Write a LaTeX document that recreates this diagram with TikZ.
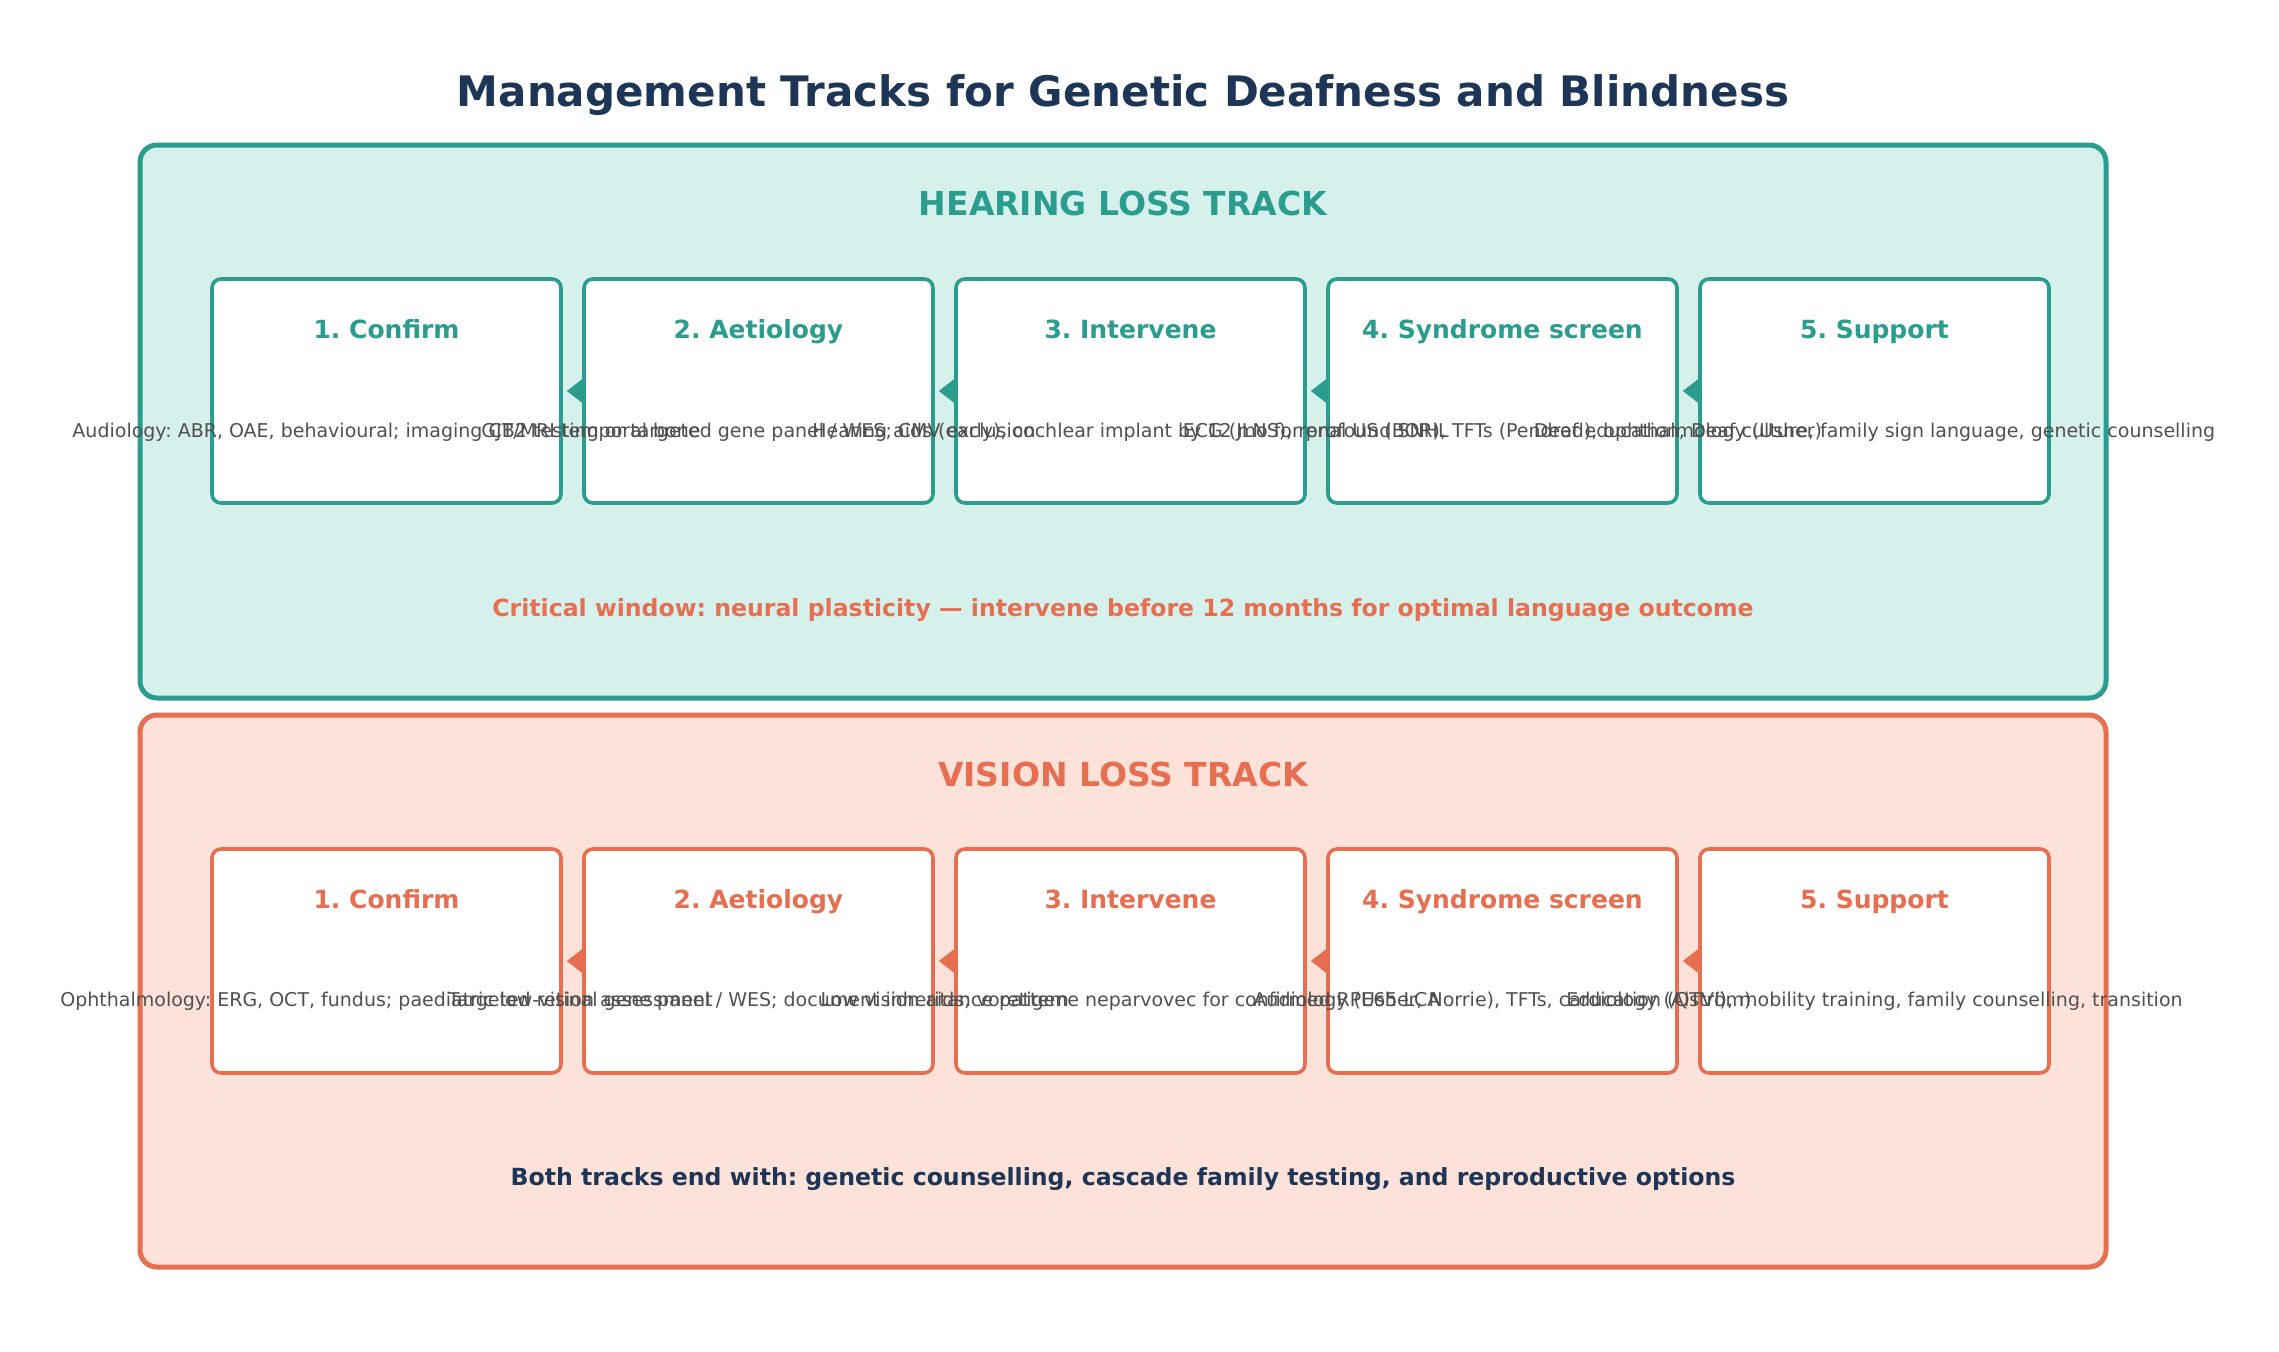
\documentclass[tikz,border=0pt]{standalone}
\usepackage{fontspec}
\setmainfont{DejaVu Sans}
\usetikzlibrary{arrows.meta}
\frenchspacing
\definecolor{teal}{HTML}{2A9D8F}
\definecolor{tealfill}{HTML}{D6F1EC}
\definecolor{coral}{HTML}{E76F51}
\definecolor{coralfill}{HTML}{FCE2D9}
\definecolor{navy}{HTML}{1D3557}
\definecolor{bodygrey}{HTML}{505050}
\tikzset{
  track/.style={draw=#1, line width=5pt, rounded corners=17pt},
  stepbox/.style={draw=#1, fill=white, line width=3.6pt, rounded corners=9pt,
    minimum width=349pt, minimum height=224pt, inner sep=0pt},
  steptitle/.style={text=#1, font=\fontsize{25}{30}\selectfont\bfseries, inner sep=0pt,
    text height=18.5pt, text depth=5pt},
  stepbody/.style={text=bodygrey, font=\fontsize{19}{23}\selectfont, inner sep=0pt,
    text height=14pt, text depth=4pt},
  tracktitle/.style={text=#1, font=\fontsize{33}{40}\selectfont\bfseries, inner sep=0pt},
  notetext/.style={text=#1, font=\fontsize{23.6}{28}\selectfont\bfseries, inner sep=0pt},
  arr/.style={draw=#1, line width=3pt, -{Triangle[length=16pt,width=24pt]}, shorten >=4pt},
}
\begin{document}
\begin{tikzpicture}[x=1pt,y=-1pt]
\useasboundingbox[fill=white] (0,0) rectangle (2279,1352);
\node[text=navy, font=\fontsize{42}{50}\selectfont\bfseries, inner sep=0pt] (title) at (1123,95) {Management Tracks for Genetic Deafness and Blindness};

% Hearing track
\draw[track=teal, fill=tealfill] (140,145) rectangle (2106,698);
\node[tracktitle=teal] (htitle) at (1123,203) {HEARING LOSS TRACK};
\foreach \i/\x in {1/386.5,2/758.5,3/1130.5,4/1502.5,5/1874.5}{
  \node[stepbox=teal] (h\i) at (\x,391) {};
}
\foreach \i/\x/\t in {1/386.5/{1. Confirm},2/758.5/{2. Aetiology},3/1130.5/{3. Intervene},4/1502.5/{4. Syndrome screen},5/1874.5/{5. Support}}{
  \node[steptitle=teal] (ht\i) at (\x,332) {\t};
}
\node[stepbody] (hb1) at (386.5,432) {Audiology: ABR, OAE, behavioural; imaging CT/MRI temporal bone};
\node[stepbody] (hb2) at (758.5,432) {GJB2 testing or targeted gene panel / WES; CMV exclusion};
\node[stepbody] (hb3) at (1130.5,432) {Hearing aids (early), cochlear implant by 12 mo for profound SNHL};
\node[stepbody] (hb4) at (1502.5,432) {ECG (JLNS), renal US (BOR), TFTs (Pendred), ophthalmology (Usher)};
\node[stepbody] (hb5) at (1874.5,432) {Deaf education, Deaf culture, family sign language, genetic counselling};
\draw[arr=teal] (h2.west) -- (h1.east);
\draw[arr=teal] (h3.west) -- (h2.east);
\draw[arr=teal] (h4.west) -- (h3.east);
\draw[arr=teal] (h5.west) -- (h4.east);
\node[notetext=coral] (hnote) at (1123,610) {Critical window: neural plasticity — intervene before 12 months for optimal language outcome};

% Vision track
\draw[track=coral, fill=coralfill] (140,715) rectangle (2106,1267);
\node[tracktitle=coral] (vtitle) at (1123,774) {VISION LOSS TRACK};
\foreach \i/\x in {1/386.5,2/758.5,3/1130.5,4/1502.5,5/1874.5}{
  \node[stepbox=coral] (v\i) at (\x,961) {};
}
\foreach \i/\x/\t in {1/386.5/{1. Confirm},2/758.5/{2. Aetiology},3/1130.5/{3. Intervene},4/1502.5/{4. Syndrome screen},5/1874.5/{5. Support}}{
  \node[steptitle=coral] (vt\i) at (\x,902) {\t};
}
\node[stepbody] (vb1) at (386.5,1001) {Ophthalmology: ERG, OCT, fundus; paediatric low-vision assessment};
\node[stepbody] (vb2) at (758.5,1001) {Targeted retinal gene panel / WES; document inheritance pattern};
\node[stepbody] (vb3) at (1130.5,1001) {Low vision aids; voretigene neparvovec for confirmed RPE65 LCA};
\node[stepbody] (vb4) at (1502.5,1001) {Audiology (Usher, Norrie), TFTs, cardiology (Alström)};
\node[stepbody] (vb5) at (1874.5,1001) {Education (QTVI), mobility training, family counselling, transition};
\draw[arr=coral] (v2.west) -- (v1.east);
\draw[arr=coral] (v3.west) -- (v2.east);
\draw[arr=coral] (v4.west) -- (v3.east);
\draw[arr=coral] (v5.west) -- (v4.east);
\node[notetext=navy] (vnote) at (1123,1179) {Both tracks end with: genetic counselling, cascade family testing, and reproductive options};
\end{tikzpicture}
\end{document}
